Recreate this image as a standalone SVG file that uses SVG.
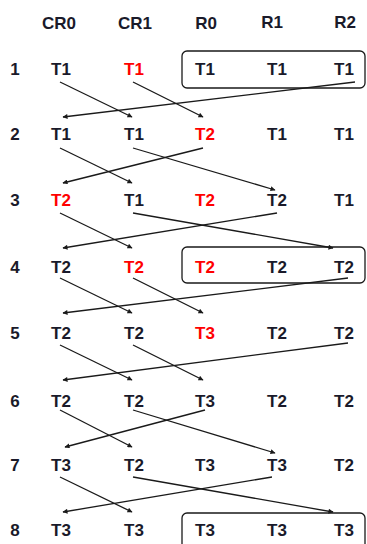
<svg xmlns="http://www.w3.org/2000/svg" width="367" height="544" viewBox="0 0 367 544">
<defs>
<marker id="ah" viewBox="0 0 10 10" refX="9" refY="5" markerWidth="6" markerHeight="5" orient="auto" markerUnits="userSpaceOnUse">
<path d="M0,0 L10,5 L0,10 Z" fill="#1a1a1a"/>
</marker>
</defs>
<style>
text{font-family:"Liberation Sans",Arial,sans-serif;font-weight:bold;font-size:17px;fill:#1a1a2a;text-anchor:middle}
.h{font-size:17px}
.r{fill:#ff0000}
.box{fill:none;stroke:#1a1a1a;stroke-width:1.3}
#connectors line{stroke:#1a1a1a;stroke-width:1.3;marker-end:url(#ah)}
</style>
<rect width="367" height="544" fill="#ffffff"/>
<g id="header">
<text class="h" x="59" y="29">CR0</text>
<text class="h" x="135" y="29">CR1</text>
<text class="h" x="206" y="29">R0</text>
<text class="h" x="272" y="28">R1</text>
<text class="h" x="345" y="28">R2</text>
</g>
<g id="boxes">
<rect class="box" x="182" y="51" width="183" height="37" rx="5"/>
<rect class="box" x="182" y="247" width="183" height="36" rx="5"/>
<rect class="box" x="182" y="513" width="183" height="40" rx="5"/>
</g>
<g id="row1"><text x="15" y="75">1</text><text x="61" y="75">T1</text><text class="r" x="134" y="75">T1</text><text x="205" y="75">T1</text><text x="277" y="75">T1</text><text x="344" y="75">T1</text></g>
<g id="row2"><text x="15" y="140">2</text><text x="61" y="140">T1</text><text x="134" y="140">T1</text><text class="r" x="205" y="140">T2</text><text x="277" y="140">T1</text><text x="344" y="140">T1</text></g>
<g id="row3"><text x="15" y="206">3</text><text class="r" x="61" y="206">T2</text><text x="134" y="206">T1</text><text class="r" x="205" y="206">T2</text><text x="277" y="206">T2</text><text x="344" y="206">T1</text></g>
<g id="row4"><text x="15" y="273">4</text><text x="61" y="273">T2</text><text class="r" x="134" y="273">T2</text><text class="r" x="205" y="273">T2</text><text x="277" y="273">T2</text><text x="344" y="273">T2</text></g>
<g id="row5"><text x="15" y="339">5</text><text x="61" y="339">T2</text><text x="134" y="339">T2</text><text class="r" x="205" y="339">T3</text><text x="277" y="339">T2</text><text x="344" y="339">T2</text></g>
<g id="row6"><text x="15" y="407">6</text><text x="61" y="407">T2</text><text x="134" y="407">T2</text><text x="205" y="407">T3</text><text x="277" y="407">T2</text><text x="344" y="407">T2</text></g>
<g id="row7"><text x="15" y="471">7</text><text x="61" y="471">T3</text><text x="134" y="471">T2</text><text x="205" y="471">T3</text><text x="277" y="471">T3</text><text x="344" y="471">T2</text></g>
<g id="row8"><text x="15" y="536">8</text><text x="61" y="536">T3</text><text x="134" y="536">T3</text><text x="205" y="536">T3</text><text x="277" y="536">T3</text><text x="344" y="536">T3</text></g>
<g id="connectors">
<line x1="60" y1="82" x2="132" y2="117"/>
<line x1="133" y1="82" x2="203" y2="117"/>
<line x1="355" y1="82" x2="63" y2="117"/>
<line x1="60" y1="148" x2="132" y2="183"/>
<line x1="133" y1="148" x2="275" y2="190"/>
<line x1="203" y1="148" x2="63" y2="183"/>
<line x1="60" y1="213" x2="132" y2="248"/>
<line x1="133" y1="213" x2="333" y2="248"/>
<line x1="277" y1="213" x2="63" y2="248"/>
<line x1="60" y1="278" x2="132" y2="313"/>
<line x1="133" y1="278" x2="203" y2="313"/>
<line x1="348" y1="278" x2="63" y2="313"/>
<line x1="60" y1="345" x2="132" y2="380"/>
<line x1="133" y1="345" x2="203" y2="380"/>
<line x1="348" y1="343" x2="63" y2="380"/>
<line x1="60" y1="410" x2="132" y2="447"/>
<line x1="133" y1="410" x2="275" y2="453"/>
<line x1="205" y1="410" x2="65" y2="447"/>
<line x1="60" y1="477" x2="132" y2="512"/>
<line x1="133" y1="477" x2="333" y2="512"/>
<line x1="272" y1="477" x2="63" y2="512"/>
</g>
</svg>
